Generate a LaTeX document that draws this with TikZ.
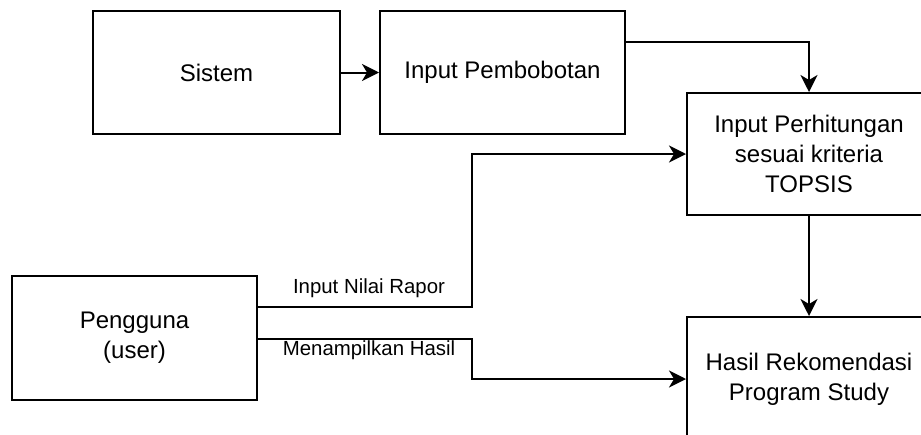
\documentclass[tikz,border=0pt]{standalone}
\usepackage{fontspec}
\setmainfont{Liberation Sans}
\usetikzlibrary{arrows.meta}
\begin{document}
\begin{tikzpicture}[x=0.5pt,y=-0.5pt,
  box/.style={draw=black,line width=1pt,fill=white,align=center,font=\fontsize{12}{15}\selectfont,inner sep=0pt},
  conn/.style={draw=black,line width=1pt,-{Stealth[length=8.5pt,width=8.5pt,inset=2.5pt]}},
  lbl/.style={font=\fontsize{10.2}{12}\selectfont,inner sep=0pt}]
\useasboundingbox (0,0) rectangle (921,434);
\begin{scope}
\clip (0,0) rectangle (921,434);
\node[box,minimum width=123.5pt,minimum height=61.5pt] (sistem) at (216.5,72.5) {Sistem};
\node[box,minimum width=122.5pt,minimum height=61.5pt] (pemb) at (502.5,72.5) {Input Pembobotan};
\node[box,minimum width=122pt,minimum height=61pt] (topsis) at (809,154) {Input Perhitungan\\sesuai kriteria\\TOPSIS};
\node[box,minimum width=122pt,minimum height=62pt] (hasil) at (809,379) {Hasil Rekomendasi\\Program Study};
\node[box,minimum width=122.5pt,minimum height=62pt] (user) at (134.5,338) {Pengguna\\(user)};
\coordinate (pby) at (0,42);
\coordinate (ry) at (0,307);
\coordinate (my) at (0,339);
\coordinate (r1) at (472,307);
\coordinate (r2) at (472,154);
\coordinate (m1) at (472,339);
\coordinate (m2) at (472,379);
\draw[conn] (sistem) -- (pemb);
\draw[conn] (pemb.east |- pby) -| (topsis.north);
\draw[conn] (topsis) -- (hasil);
\draw[conn] (user.east |- ry) -- (r1) -- (r2) -- (topsis.west);
\draw[conn] (user.east |- my) -- (m1) -- (m2) -- (hasil.west);
\node[lbl] (lr) at (369,288) {Input Nilai Rapor};
\node[lbl] (lm) at (369,350) {Menampilkan Hasil};
\end{scope}
\end{tikzpicture}
\end{document}
